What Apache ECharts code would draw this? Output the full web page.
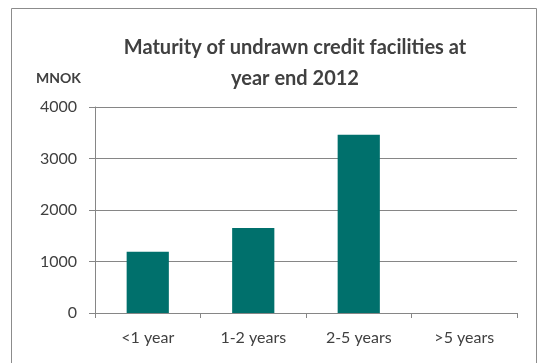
<!DOCTYPE html>
<html>
<head>
<meta charset="utf-8">
<script src="https://cdn.jsdelivr.net/npm/echarts@6/dist/echarts.min.js"></script>
<style>
  html, body { margin: 0; padding: 0; background: #fff; }
  #chart { width: 543px; height: 363px; }
</style>
</head>
<body>
<div id="chart"></div>
<script>
// Maturity buckets and undrawn amounts (MNOK)
const categories = ['<1 year', '1-2 years', '2-5 years', '>5 years'];
const amounts = [1190, 1650, 3460, 0];
const yTicks = { min: 0, max: 4000, interval: 1000 };

const textColor = '#404040';
const lineColor = '#868686';
const barColor = '#00706C';
const font = 'Lato, "Open Sans", sans-serif';

const chart = echarts.init(document.getElementById('chart'), null, { renderer: 'canvas' });

chart.setOption({
  backgroundColor: '#ffffff',
  animation: false,
  title: [
    {
      text: 'Maturity of undrawn credit facilities at\nyear end 2012',
      left: 290,
      top: 27,
      textAlign: 'center',
      textStyle: {
        fontFamily: font,
        fontWeight: 'bold',
        fontSize: 20,
        lineHeight: 31,
        color: textColor
      }
    },
    {
      text: 'MNOK',
      left: 31,
      top: 66,
      textStyle: {
        fontFamily: font,
        fontWeight: 'bold',
        fontSize: 14,
        color: textColor
      }
    }
  ],
  graphic: [
    {
      type: 'rect',
      shape: { x: 11.5, y: 8.5, width: 525, height: 400 },
      style: { fill: 'none', stroke: '#8c8c8c', lineWidth: 1 },
      silent: true,
      z: -1
    }
  ],
  grid: { left: 95, right: 26, top: 107, bottom: 50 },
  xAxis: {
    type: 'category',
    data: categories,
    axisLine: { show: true, lineStyle: { color: lineColor, width: 1 } },
    axisTick: { show: true, length: 5, alignWithLabel: false, lineStyle: { color: lineColor } },
    axisLabel: { color: textColor, fontFamily: font, fontSize: 16, margin: 17 }
  },
  yAxis: {
    type: 'value',
    min: yTicks.min,
    max: yTicks.max,
    interval: yTicks.interval,
    axisLine: { show: true, lineStyle: { color: lineColor, width: 1 } },
    axisTick: { show: true, length: 6, lineStyle: { color: lineColor } },
    axisLabel: {
      color: textColor,
      fontFamily: font,
      fontSize: 16,
      margin: 18,
      formatter: (v) => String(v)
    },
    splitLine: { show: true, lineStyle: { color: lineColor, width: 1 } }
  },
  series: [
    {
      type: 'bar',
      data: amounts,
      barWidth: '40%',
      itemStyle: { color: barColor }
    }
  ]
});
</script>
</body>
</html>
